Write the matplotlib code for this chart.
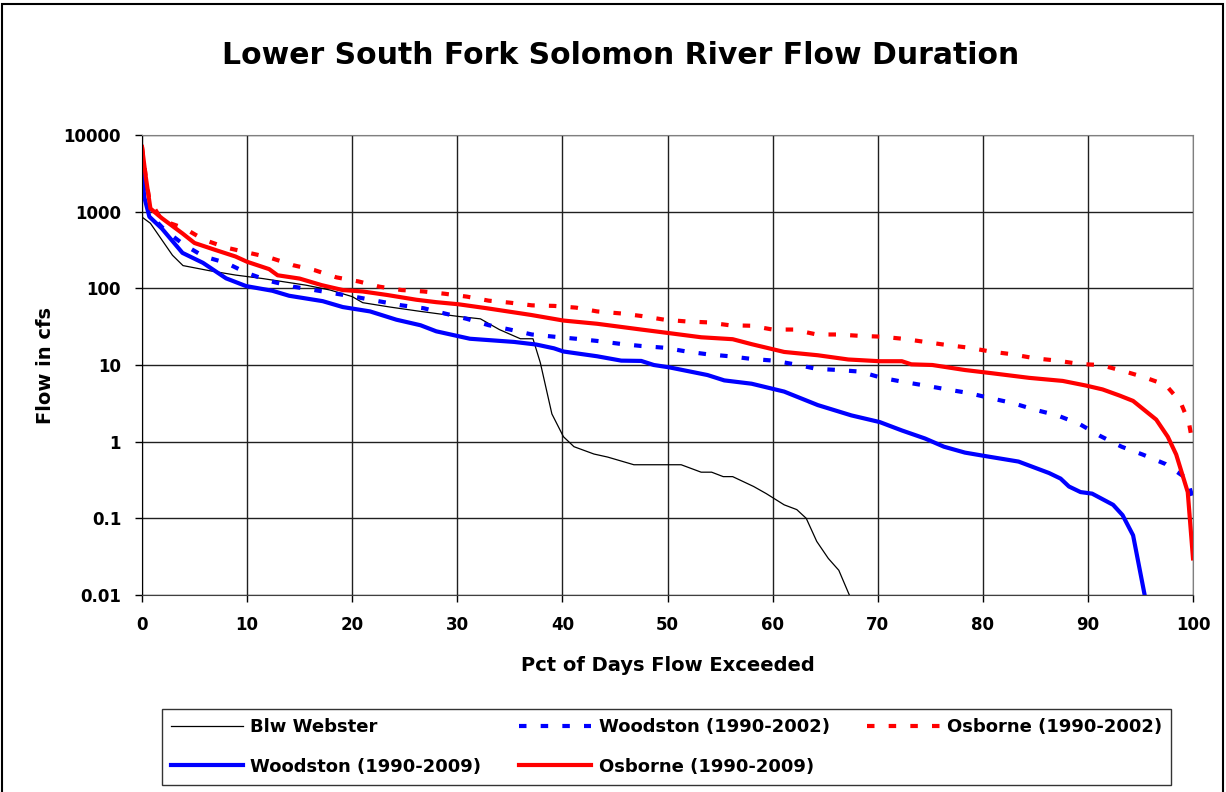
import matplotlib
matplotlib.use("Agg")
import matplotlib.pyplot as plt
from matplotlib.patches import Rectangle
from matplotlib.ticker import FixedLocator, FixedFormatter

plt.rcParams['font.family'] = ['DejaVu Sans']
plt.rcParams['font.weight'] = 'bold'

# Blw Webster
web_x = [0, 0.8, 2.9, 3.9, 6.4, 8.9, 11.5, 15.6, 17.9, 20, 21, 23.6, 26.5, 30.1, 32.2, 34, 36,
         37.2, 37.9, 39.0, 40.1, 41.1, 43, 44.3, 46.8, 51.3, 53.2, 54.2, 55.3, 56.2, 58.2, 59.4,
         61.1, 62.3, 63.2, 64.2, 65.3, 66.3, 67.3]
web_y = [850, 705, 270, 198, 170, 149, 134, 110, 95, 78, 65, 57, 50, 43, 40, 29, 22,
         22, 10.7, 2.3, 1.16, 0.86, 0.69, 0.63, 0.50, 0.50, 0.40, 0.40, 0.35, 0.35, 0.26, 0.21,
         0.15, 0.13, 0.10, 0.05, 0.03, 0.021, 0.01]

# Woodston (1990-2009)
w09_x = [0, 0.2, 0.7, 1.9, 3.85, 5.8, 8.0, 9.9, 12.4, 14.0, 17.2, 19.1, 21.7, 24.2, 26.5, 28.0,
         31.2, 35.4, 37.5, 39.2, 40.1, 43.3, 45.6, 47.5, 48.7, 50.2, 53.8, 55.4, 58.0, 61.1, 64.3,
         67.5, 70.2, 72.3, 74.5, 76.3, 78.3, 80.2, 83.4, 86.3, 87.4, 88.2, 89.3, 90.4, 92.4, 93.3,
         94.3, 95.4]
w09_y = [4000, 1580, 860, 600, 290, 215, 135, 107, 93, 80, 68, 57, 50, 39, 33, 27.5,
         22, 20, 18.5, 16.5, 15, 13, 11.4, 11.3, 10, 9.3, 7.4, 6.3, 5.7, 4.5, 3.0,
         2.2, 1.8, 1.4, 1.1, 0.86, 0.72, 0.65, 0.55, 0.39, 0.33, 0.26, 0.22, 0.21, 0.15, 0.11,
         0.06, 0.01]

# Woodston (1990-2002)
w02_x = [0, 0.3, 0.8, 2.2, 4.0, 5.9, 8.0, 10, 12.1, 14.4, 16.4, 18.5, 20.6, 22.5, 24.7, 26.8,
         28.8, 30.9, 33, 35, 37.1, 39.2, 41.3, 43.3, 45.6, 47.5, 49.7, 51.8, 53.8, 55.9, 58, 60.1,
         62.1, 64.2, 66.3, 68.3, 70.4, 72.5, 74.5, 76.6, 78.7, 80.7, 82.8, 85.0, 87.1, 89.2, 91.1,
         93.2, 95.2, 97.4, 99.4, 100]
w02_y = [4500, 1800, 900, 570, 370, 260, 215, 158, 125, 105, 95, 85, 76, 68, 60, 55,
         47, 40, 33, 29, 25, 23.4, 22, 20.6, 18.8, 17.7, 16.8, 15, 13.8, 13, 12, 11.4,
         10.2, 8.9, 8.6, 8.2, 6.8, 6.0, 5.4, 4.8, 4.3, 3.7, 3.2, 2.6, 2.2, 1.7, 1.2,
         0.86, 0.68, 0.51, 0.33, 0.18]

# Osborne (1990-2009)
o09_x = [0, 0.35, 0.8, 1.9, 3.85, 5.0, 7.0, 8.9, 10, 12.1, 12.9, 15, 17.1, 19.1, 21, 23.3, 26.1,
         28, 30.1, 32.8, 37, 40.1, 43.3, 47.5, 50.2, 53.2, 56.2, 58, 61.1, 64.3, 67.2, 70.2, 72.3,
         73.2, 75.2, 78.3, 80.9, 84.4, 87.6, 89.8, 91.4, 93.0, 94.3, 96.5, 97.6, 98.4, 99.5, 100]
o09_y = [7000, 2900, 1100, 820, 520, 390, 316, 260, 222, 178, 148, 134, 110, 95, 91, 82, 71,
         66, 62, 55, 45, 38, 34.5, 29, 26, 23, 21.7, 18.7, 14.8, 13.4, 11.8, 11.2, 11.2,
         10.2, 10, 8.6, 7.8, 6.8, 6.2, 5.4, 4.8, 4.0, 3.4, 1.94, 1.16, 0.68, 0.22, 0.03]

# Osborne (1990-2002)
o02_x = [0, 0.35, 0.7, 1.9, 4, 5.9, 8, 10, 12.1, 14.4, 16.4, 18.5, 20.6, 22.6, 24.7, 26.8, 28.8,
         30.9, 33, 35, 37.1, 39.2, 41.3, 43.3, 45.6, 47.5, 49.7, 51.8, 53.8, 55.9, 58, 60, 62,
         64.2, 66.2, 68.3, 70.4, 72.5, 74.5, 76.6, 78.7, 80.7, 82.8, 85, 87.1, 89.2, 91.2, 93.3,
         95.4, 97.4, 98.8, 99.6, 100]
o02_y = [7000, 2900, 1420, 770, 610, 430, 340, 294, 253, 200, 173, 139, 123, 105, 95, 91, 85,
         78, 69, 65, 60, 59, 56, 50, 47, 43.6, 39, 37, 36, 33, 32.5, 29, 29,
         25, 25, 24, 23.4, 21.9, 20, 18.2, 16.8, 15, 13.8, 12.2, 11.4, 10.3, 10, 8.4,
         6.9, 5.5, 3.3, 1.8, 0.9]

y_ticks = [0.01, 0.1, 1, 10, 100, 1000, 10000]
y_labels = ["0.01", "0.1", "1", "10", "100", "1000", "10000"]
x_ticks = [0, 10, 20, 30, 40, 50, 60, 70, 80, 90, 100]

W, H = 1226, 792
fig = plt.figure(figsize=(W / 100, H / 100), dpi=100)
ax = fig.add_axes([142 / W, 1 - 595 / H, (1193 - 142) / W, (595 - 135) / H])

l_web, = ax.plot(web_x, web_y, color='black', lw=0.9, label='Blw Webster')
l_w02, = ax.plot(w02_x, w02_y, color='#0000ff', lw=3, dashes=(1.8, 3.4), label='Woodston (1990-2002)')
l_o02, = ax.plot(o02_x, o02_y, color='#ff0000', lw=3, dashes=(1.8, 3.4), label='Osborne (1990-2002)')
l_w09, = ax.plot(w09_x, w09_y, color='#0000ff', lw=3, label='Woodston (1990-2009)')
l_o09, = ax.plot(o09_x, o09_y, color='#ff0000', lw=3, label='Osborne (1990-2009)')

ax.set_yscale('log')
ax.set_ylim(0.01, 10000)
ax.set_xlim(0, 100)
ax.yaxis.set_major_locator(FixedLocator(y_ticks))
ax.yaxis.set_major_formatter(FixedFormatter(y_labels))
ax.yaxis.set_minor_locator(FixedLocator([]))
ax.set_xticks(x_ticks)
ax.grid(True, color='#202020', lw=1)
ax.set_axisbelow(True)
ax.tick_params(axis='both', length=5, width=1, labelsize=12, pad=10)
for lbl in ax.get_xticklabels() + ax.get_yticklabels():
    lbl.set_fontweight('bold')
ax.spines['left'].set_color('black')
ax.spines['bottom'].set_color('#404040')
ax.spines['top'].set_color('#808080')
ax.spines['right'].set_color('#808080')

ax.set_xlabel('Pct of Days Flow Exceeded', fontsize=14, fontweight='bold', labelpad=16)
ax.set_ylabel('Flow in cfs', fontsize=14, fontweight='bold', labelpad=6)
fig.text(621 / W, 1 - 55 / H, 'Lower South Fork Solomon River Flow Duration',
         fontsize=21.5, fontweight='bold', ha='center', va='center')

handles = [l_web, l_w09, l_w02, l_o09, l_o02]
leg = fig.legend(handles, [h.get_label() for h in handles], ncol=3, loc='upper left',
                 bbox_to_anchor=(162 / W, 1 - 789 / H, (1171 - 162) / W, 80 / H),
                 mode='expand', fancybox=False, frameon=True, edgecolor='black',
                 prop={'size': 13, 'weight': 'bold'}, handlelength=4.0,
                 handletextpad=0.4, columnspacing=0.4, borderaxespad=0,
                 labelspacing=1.2, borderpad=0.5)
leg.get_frame().set_linewidth(1)

fig.patches.append(Rectangle((2 / W, -0.05), (1223 - 2) / W, 1.05 - 4 / H,
                             transform=fig.transFigure, fill=False,
                             edgecolor='black', lw=1.5))

fig.savefig('out.png', dpi=100)
